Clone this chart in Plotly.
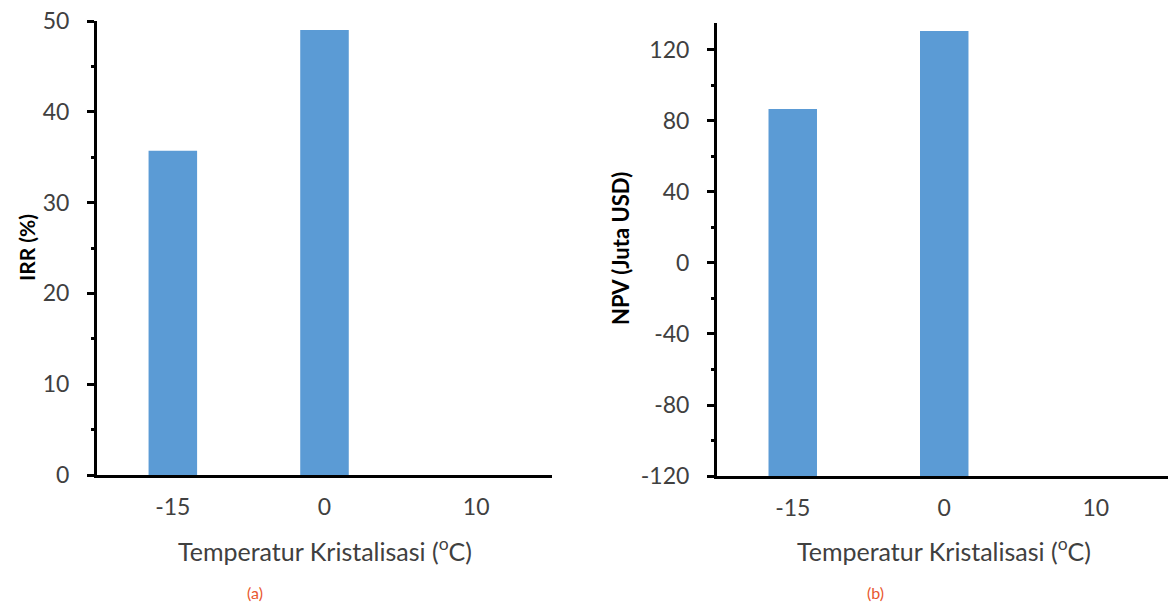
import plotly.graph_objects as go

categories = ["-15", "0", "10"]
irr_values = [35.7, 49.0, None]
npv_values = [86.8, 130.7, None]
irr_ticks = [0, 10, 20, 30, 40, 50]
npv_ticks = [-120, -80, -40, 0, 40, 80, 120]
npv_tick_labels = ["-120", "-80", "-40", "0", "40", "80", "120"]

W, H = 1168, 606
BAR_COLOR = "#5B9BD5"
TICK_COLOR = "#404040"
FONT = "Lato, Carlito, 'Open Sans', sans-serif"
NPV_BASE = -120

def px(x):
    return x / W

def py(y):
    return 1 - y / H

fig = go.Figure()
fig.add_trace(go.Bar(x=categories, y=irr_values, marker_color=BAR_COLOR,
                     marker_line_width=0, width=0.32, xaxis="x", yaxis="y"))
fig.add_trace(go.Bar(x=categories,
                     y=[None if v is None else v - NPV_BASE for v in npv_values],
                     base=NPV_BASE, marker_color=BAR_COLOR,
                     marker_line_width=0, width=0.32, xaxis="x2", yaxis="y2"))

common_y = dict(showline=True, linecolor="black", linewidth=3, ticks="outside",
                ticklen=7, tickwidth=3, tickcolor="black", showgrid=False,
                zeroline=False, automargin=False,
                tickfont=dict(family=FONT, size=23, color=TICK_COLOR),
                ticklabelstandoff=13)
common_x = dict(type="category", showline=True, linecolor="black", linewidth=3,
                ticks="", showgrid=False, zeroline=False, automargin=False,
                tickfont=dict(family=FONT, size=23, color=TICK_COLOR),
                ticklabelstandoff=9, range=[-0.5, 2.5])

fig.update_layout(
    width=W, height=H, margin=dict(l=0, r=0, t=0, b=0, autoexpand=False),
    plot_bgcolor="white", paper_bgcolor="white", showlegend=False,
    xaxis=dict(common_x, domain=[px(97), px(552)], anchor="y"),
    yaxis=dict(common_y, domain=[py(475), py(21)], anchor="x", range=[0, 50],
               tickvals=irr_ticks,
               minor=dict(ticks="outside", ticklen=3, tickwidth=3, tickcolor="black", dtick=5)),
    xaxis2=dict(common_x, domain=[px(717), 1.0], anchor="y2"),
    yaxis2=dict(common_y, domain=[py(476), py(23)], anchor="x2", range=[-120, 135.2],
                tickvals=npv_ticks, ticktext=npv_tick_labels,
                minor=dict(ticks="outside", ticklen=3, tickwidth=3, tickcolor="black", dtick=20)),
)
fig.update_layout(xaxis2_range=[-0.5, 2.477])

title_font = dict(family=FONT, size=25, color=TICK_COLOR)
ann = [
    dict(x=px(325), y=py(549), text="Temperatur Kristalisasi (<sup>o</sup>C)", font=title_font),
    dict(x=px(944), y=py(549), text="Temperatur Kristalisasi (<sup>o</sup>C)", font=title_font),
    dict(x=px(26), y=py(248), text="<b>IRR (%)</b>", textangle=-90,
         font=dict(family=FONT, size=21, color="black")),
    dict(x=px(621), y=py(249), text="<b>NPV (Juta USD)</b>", textangle=-90,
         font=dict(family=FONT, size=22, color="black")),
    dict(x=px(255), y=py(592), text="(a)", font=dict(family=FONT, size=16, color="#E8572F")),
    dict(x=px(875), y=py(592), text="(b)", font=dict(family=FONT, size=16, color="#E8572F")),
]
for a in ann:
    fig.add_annotation(dict(a, xref="paper", yref="paper", showarrow=False,
                            xanchor="center", yanchor="middle"))

fig.write_html("out.html")
